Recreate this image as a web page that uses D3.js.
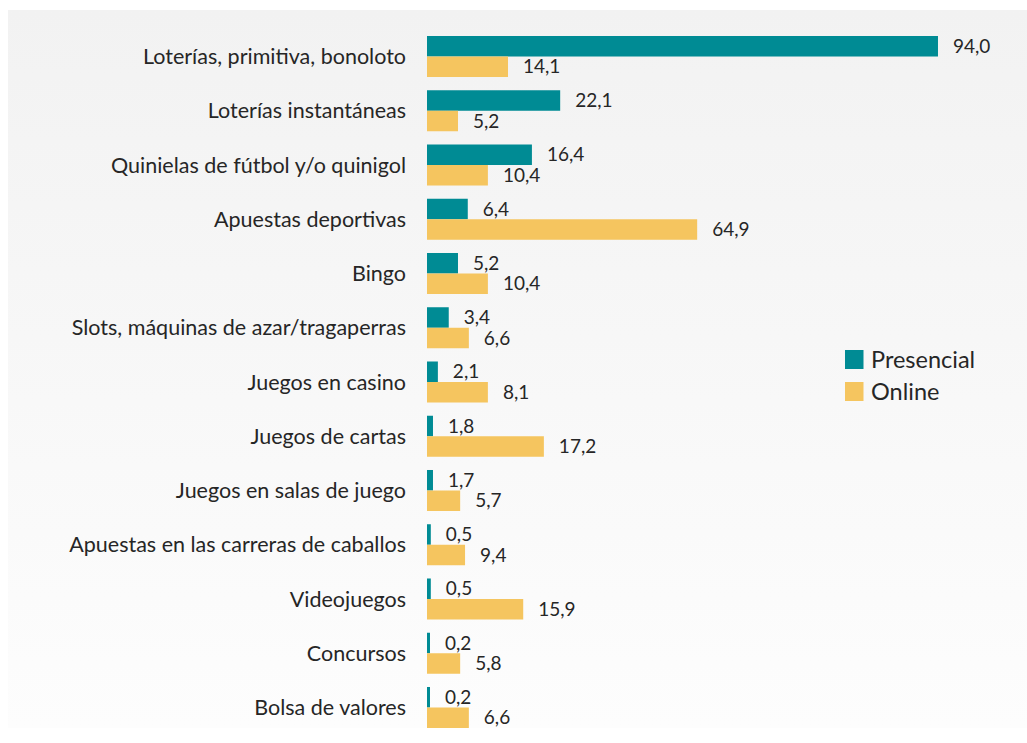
<!DOCTYPE html>
<html lang="es">
<head>
<meta charset="utf-8">
<script src="https://cdn.jsdelivr.net/npm/d3@7"></script>
<style>
  html, body { margin: 0; padding: 0; background: #ffffff; }
  svg { display: block; }
  text { font-family: Lato, "Open Sans", sans-serif; fill: #262626; }
</style>
</head>
<body>
<svg id="chart" width="1027" height="743"></svg>
<script>
/* Horizontal grouped bars: presencial vs online gambling participation. */
const categories = [
  "Loterías, primitiva, bonoloto",
  "Loterías instantáneas",
  "Quinielas de fútbol y/o quinigol",
  "Apuestas deportivas",
  "Bingo",
  "Slots, máquinas de azar/tragaperras",
  "Juegos en casino",
  "Juegos de cartas",
  "Juegos en salas de juego",
  "Apuestas en las carreras de caballos",
  "Videojuegos",
  "Concursos",
  "Bolsa de valores"
];
const seriesNames = ["Presencial", "Online"];

// printed values
const presencial = [94.0, 22.1, 16.4, 6.4, 5.2, 3.4, 2.1, 1.8, 1.7, 0.5, 0.5, 0.2, 0.2];
const online = [14.1, 5.2, 10.4, 64.9, 10.4, 6.6, 8.1, 17.2, 5.7, 9.4, 15.9, 5.8, 6.6];

// bar lengths as drawn in the source (they do not follow the printed values exactly)
const presencialBar = [94.0, 24.5, 19.3, 7.5, 5.7, 4.0, 2.0, 1.1, 1.1, 0.7, 0.7, 0.55, 0.55];
const onlineBar = [14.9, 5.7, 11.2, 49.7, 11.2, 7.7, 11.2, 21.5, 6.1, 7.0, 17.7, 6.1, 7.7];

const colors = ["#008b94", "#f5c55f"];

const svg = d3.select("#chart");
const W = 1027, H = 743;

const defs = svg.append("defs");
const grad = defs.append("linearGradient")
  .attr("id", "panelFill")
  .attr("x1", 0).attr("y1", 0).attr("x2", 0).attr("y2", 1);
grad.append("stop").attr("offset", "0%").attr("stop-color", "#f2f2f2");
grad.append("stop").attr("offset", "100%").attr("stop-color", "#fdfdfd");

svg.append("rect")
  .attr("x", 8).attr("y", 10)
  .attr("width", W - 8).attr("height", 718)
  .attr("fill", "url(#panelFill)");

const x = d3.scaleLinear().domain([0, 100]).range([427, 427 + 543.6]);
const y = d3.scaleBand().domain(categories).range([36, 728]).paddingInner(0.244).paddingOuter(0);
const sub = d3.scaleBand().domain(seriesNames).range([0, y.bandwidth()]);

const rows = categories.map((c, i) => ({
  cat: c,
  bars: [
    { s: seriesNames[0], v: presencialBar[i], label: presencial[i] },
    { s: seriesNames[1], v: onlineBar[i], label: online[i] }
  ]
}));

const fmt = (v) => v.toFixed(1).replace(".", ",");

const g = svg.append("g");
const row = g.selectAll("g.row").data(rows).join("g")
  .attr("class", "row")
  .attr("transform", (d) => `translate(0,${y(d.cat)})`);

row.selectAll("rect").data((d) => d.bars).join("rect")
  .attr("x", x(0))
  .attr("y", (d) => sub(d.s))
  .attr("width", (d) => x(d.v) - x(0))
  .attr("height", sub.bandwidth())
  .attr("fill", (d, i) => colors[i]);

row.selectAll("text.val").data((d) => d.bars).join("text")
  .attr("class", "val")
  .attr("x", (d) => x(d.v) + 15)
  .attr("y", (d) => sub(d.s) + sub.bandwidth() / 2)
  .attr("dy", "0.35em")
  .style("font-size", "19px")
  .text((d) => fmt(d.label));

row.append("text")
  .attr("x", 406)
  .attr("y", y.bandwidth() / 2)
  .attr("dy", "0.35em")
  .attr("text-anchor", "end")
  .style("font-size", "21.5px")
  .text((d) => d.cat);

const legend = svg.append("g").attr("transform", "translate(845,350)");
const item = legend.selectAll("g").data(seriesNames).join("g")
  .attr("transform", (d, i) => `translate(0,${i * 32})`);
item.append("rect").attr("width", 18.5).attr("height", 19)
  .attr("fill", (d, i) => colors[i]);
item.append("text")
  .attr("x", 26).attr("y", 9.5).attr("dy", "0.35em")
  .style("font-size", "23.5px")
  .text((d) => d);
</script>
</body>
</html>
